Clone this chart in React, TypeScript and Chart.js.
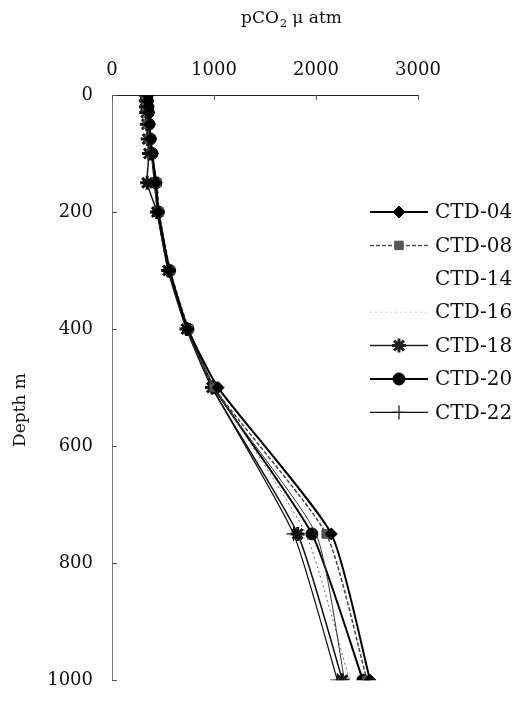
import React, { useEffect, useRef } from 'react';
import { Chart, registerables, PointElement } from 'chart.js';

Chart.register(...registerables);

// ---------- data ----------
const depthLevels = [0, 10, 20, 30, 50, 75, 100, 150, 200, 300, 400, 500, 750, 1000];
const seriesNames = ['CTD-04', 'CTD-08', 'CTD-14', 'CTD-16', 'CTD-18', 'CTD-20', 'CTD-22'];
const ctd04 = [350, 352, 356, 360, 368, 378, 395, 430, 455, 565, 745, 1040, 2150, 2530];
const ctd08 = [335, 336, 340, 345, 352, 365, 385, 440, 462, 572, 752, 1000, 2100, 2500];
const ctd14 = [345, 348, 350, 355, 362, 372, 390, 420, 445, 555, 735, 990, 2000, 2280];
const ctd16 = [340, 342, 346, 350, 358, 370, 388, 425, 450, 560, 740, 1010, 1900, 2330];
const ctd18 = [330, 331, 333, 336, 342, 350, 362, 345, 440, 550, 730, 980, 1820, 2260];
const ctd20 = [345, 346, 350, 355, 362, 375, 392, 430, 455, 565, 745, 1000, 1960, 2460];
const ctd22 = [338, 340, 343, 348, 355, 368, 385, 415, 445, 555, 735, 985, 1780, 2210];
const seriesValues = [ctd04, ctd08, ctd14, ctd16, ctd18, ctd20, ctd22];
const xTickValues = [0, 1000, 2000, 3000];
const yTickValues = [0, 200, 400, 600, 800, 1000];
const xTitle = ['pCO', '2', ' \u03BC atm'];
const yTitle = 'Depth m';

// ---------- styles ----------
const FONT = '"DejaVu Serif", "Liberation Serif", serif';
const W = 522;
const H = 710;
const PLOT = { left: 112, top: 95, right: 418, bottom: 694 };

type Style = {
  color: string;
  width: number;
  dash: number[];
  point: string | false;
  radius: number;
  fill: string;
  pointBorder: number;
  legendColor: string;
};

const styles: Style[] = [
  { color: '#000', width: 2, dash: [], point: 'rectRot', radius: 6, fill: '#000', pointBorder: 1, legendColor: '#000' },
  { color: '#444', width: 1.5, dash: [4, 2], point: 'rect', radius: 6, fill: '#555', pointBorder: 1, legendColor: '#555' },
  { color: '#333', width: 1, dash: [], point: false, radius: 0, fill: '#000', pointBorder: 1, legendColor: 'rgba(0,0,0,0)' },
  { color: '#666', width: 1, dash: [2, 3], point: false, radius: 0, fill: '#000', pointBorder: 1, legendColor: '#ccc' },
  { color: '#111', width: 1.5, dash: [], point: 'star', radius: 7, fill: '#000', pointBorder: 3, legendColor: '#222' },
  { color: '#000', width: 2, dash: [], point: 'circle', radius: 6, fill: '#000', pointBorder: 1, legendColor: '#000' },
  { color: '#111', width: 1.2, dash: [], point: 'cross', radius: 7, fill: '#000', pointBorder: 1.2, legendColor: '#111' },
];

const LEGEND = { lineX1: 370, lineX2: 428, textX: 435, y0: 212, dy: 33.4 };

const overlayPlugin = {
  id: 'overlay',
  afterDraw(chart: any) {
    const ctx: CanvasRenderingContext2D = chart.ctx;
    const xs = chart.scales.x;
    const ys = chart.scales.y;
    ctx.save();

    // small inward tick marks
    ctx.strokeStyle = '#555';
    ctx.lineWidth = 1;
    ctx.beginPath();
    yTickValues.forEach((v) => {
      const py = Math.round(ys.getPixelForValue(v)) + 0.5;
      ctx.moveTo(PLOT.left, py);
      ctx.lineTo(PLOT.left + 5, py);
    });
    xTickValues.forEach((v) => {
      const px = Math.round(xs.getPixelForValue(v)) + 0.5;
      ctx.moveTo(px, PLOT.top);
      ctx.lineTo(px, PLOT.top + 5);
    });
    ctx.stroke();

    ctx.fillStyle = '#111';
    // x axis title with subscript
    ctx.textBaseline = 'middle';
    ctx.textAlign = 'left';
    ctx.font = `17px ${FONT}`;
    const w0 = ctx.measureText(xTitle[0]).width;
    ctx.font = `11px ${FONT}`;
    const w1 = ctx.measureText(xTitle[1]).width;
    ctx.font = `17px ${FONT}`;
    const w2 = ctx.measureText(xTitle[2]).width;
    let x = 291 - (w0 + w1 + w2) / 2;
    const ty = 19;
    ctx.fillText(xTitle[0], x, ty);
    x += w0;
    ctx.font = `11px ${FONT}`;
    ctx.fillText(xTitle[1], x + 1, ty + 5);
    x += w1 + 1;
    ctx.font = `17px ${FONT}`;
    ctx.fillText(xTitle[2], x, ty);

    // y axis title
    ctx.save();
    ctx.translate(21, 410);
    ctx.rotate(-Math.PI / 2);
    ctx.textAlign = 'center';
    ctx.font = `17px ${FONT}`;
    ctx.fillText(yTitle, 0, 0);
    ctx.restore();

    // legend
    const area = { left: 0, top: 0, right: W, bottom: H };
    seriesNames.forEach((name, i) => {
      const s = styles[i];
      const y = LEGEND.y0 + i * LEGEND.dy;
      ctx.save();
      ctx.strokeStyle = s.legendColor;
      ctx.lineWidth = s.width;
      ctx.setLineDash(s.dash);
      ctx.beginPath();
      ctx.moveTo(LEGEND.lineX1, y);
      ctx.lineTo(LEGEND.lineX2, y);
      ctx.stroke();
      ctx.restore();
      if (s.point) {
        const pt: any = new (PointElement as any)({ x: (LEGEND.lineX1 + LEGEND.lineX2) / 2, y });
        pt.options = {
          pointStyle: s.point,
          radius: s.radius,
          rotation: 0,
          borderWidth: s.pointBorder,
          backgroundColor: s.fill,
          borderColor: s.legendColor,
          hitRadius: 1,
          hoverRadius: 1,
        };
        pt.draw(ctx, area);
      }
      ctx.fillStyle = '#111';
      ctx.font = `20px ${FONT}`;
      ctx.textAlign = 'left';
      ctx.textBaseline = 'middle';
      ctx.fillText(name, LEGEND.textX, y + 1);
    });
    ctx.restore();
  },
};

export default function App() {
  const ref = useRef<HTMLCanvasElement | null>(null);

  useEffect(() => {
    document.body.style.margin = '0';
    const canvas = ref.current;
    if (!canvas) return;
    const datasets = seriesNames.map((name, i) => {
      const s = styles[i];
      return {
        label: name,
        data: depthLevels.map((d, k) => ({ x: seriesValues[i][k], y: d })),
        borderColor: s.color,
        borderWidth: s.width,
        borderDash: s.dash,
        backgroundColor: s.fill,
        pointStyle: s.point || 'circle',
        pointRadius: s.point ? s.radius : 0,
        pointBorderWidth: s.pointBorder,
        pointBorderColor: s.color,
        pointBackgroundColor: s.fill,
        showLine: true,
        tension: 0.18,
        fill: false,
      };
    });
    const chart = new Chart(canvas, {
      type: 'scatter',
      data: { datasets },
      options: {
        animation: false,
        responsive: false,
        devicePixelRatio: 1,
        layout: { padding: { left: 0, top: 0, right: W - PLOT.right, bottom: H - PLOT.bottom } },
        plugins: { legend: { display: false }, tooltip: { enabled: false }, title: { display: false } },
        scales: {
          x: {
            type: 'linear',
            position: 'top',
            min: 0,
            max: 3000,
            afterBuildTicks: (s: any) => {
              s.ticks = xTickValues.map((v) => ({ value: v }));
            },
            afterFit: (s: any) => {
              s.height = PLOT.top;
            },
            grid: { display: false, drawTicks: false },
            border: { display: true, color: '#222', width: 1 },
            ticks: {
              font: { family: FONT, size: 18 },
              color: '#111',
              padding: 14,
              maxRotation: 0,
              callback: (v: any) => String(v),
            },
          },
          y: {
            type: 'linear',
            position: 'left',
            reverse: true,
            min: 0,
            max: 1000,
            afterBuildTicks: (s: any) => {
              s.ticks = yTickValues.map((v) => ({ value: v }));
            },
            afterFit: (s: any) => {
              s.width = PLOT.left;
            },
            grid: { display: false, drawTicks: false },
            border: { display: true, color: '#777', width: 1 },
            ticks: {
              font: { family: FONT, size: 18 },
              color: '#111',
              padding: 19,
              callback: (v: any) => String(v),
            },
          },
        },
      } as any,
      plugins: [overlayPlugin],
    });
    return () => chart.destroy();
  }, []);

  return (
    <div style={{ position: 'absolute', left: 0, top: 0, width: W, height: H, background: '#fff' }}>
      <canvas ref={ref} width={W} height={H} style={{ width: W, height: H, display: 'block' }} />
    </div>
  );
}
